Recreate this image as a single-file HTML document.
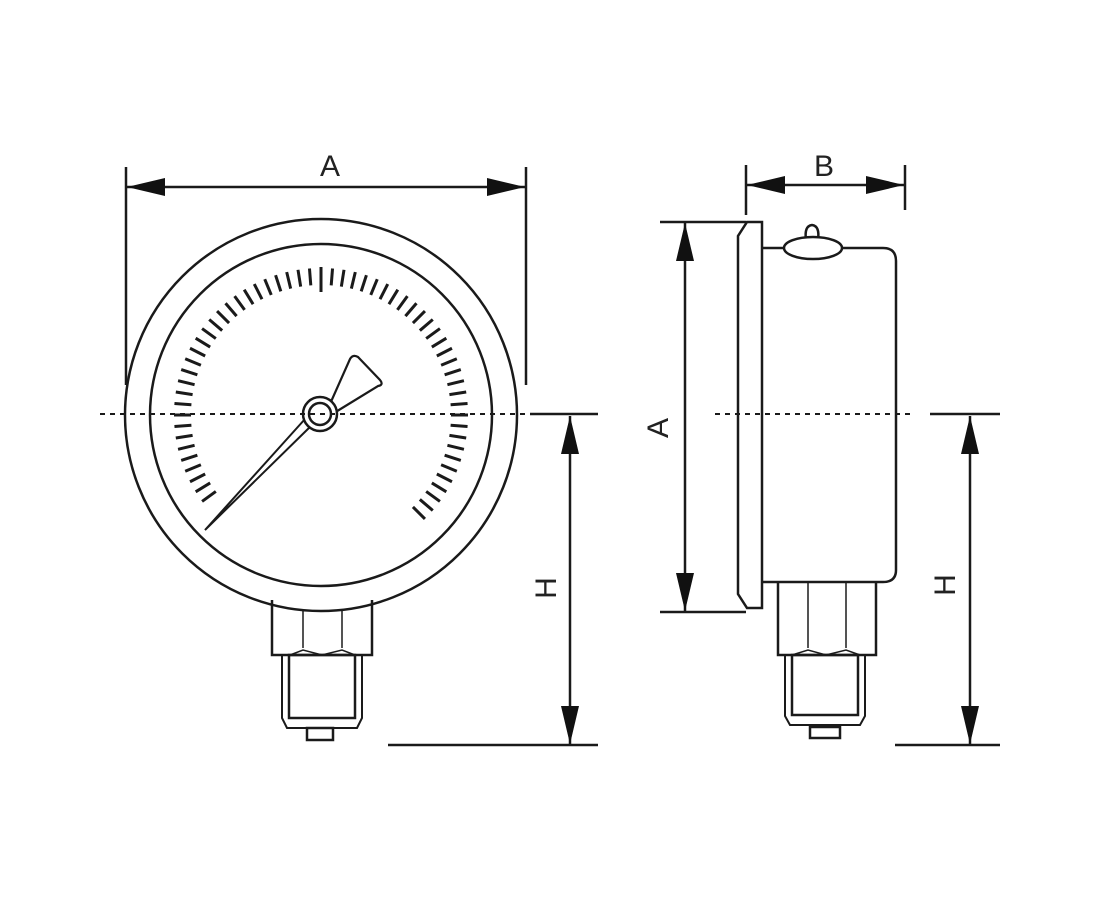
<!DOCTYPE html>
<html><head><meta charset="utf-8"><style>
html,body{margin:0;padding:0;background:#fff;}
svg{display:block;}
text{font-family:"Liberation Sans",sans-serif;font-size:30px;fill:#222;}
</style></head><body>
<svg width="1100" height="900" viewBox="0 0 1100 900" xmlns="http://www.w3.org/2000/svg">
<defs>
<marker id="ar" viewBox="0 0 38 18" refX="38" refY="9" markerWidth="38" markerHeight="18" markerUnits="userSpaceOnUse" orient="auto-start-reverse">
<path d="M0,0 L38,9 L0,18 Z" fill="#111"/>
</marker>
<line id="t" x1="321" y1="268" x2="321" y2="285"/>
</defs>
<g fill="none" stroke="#1a1a1a" stroke-width="2.5">
<line x1="126" y1="167" x2="126" y2="385"/>
<line x1="526" y1="167" x2="526" y2="385"/>
<line x1="127" y1="187" x2="525" y2="187" marker-start="url(#ar)" marker-end="url(#ar)"/>
<path d="M272,600 L272,655 L372,655 L372,600"/>
<line x1="303" y1="610" x2="303" y2="648" stroke-width="1.5"/>
<line x1="342" y1="610" x2="342" y2="648" stroke-width="1.5"/>
<path d="M290,655 L303,650 L322,655 L342,650 L355,655" stroke-width="1.5"/>
<path d="M282,655 L282,718 L287,728 L357,728 L362,718 L362,655" stroke-width="2"/>
<rect x="289" y="655" width="66" height="63"/>
<rect x="307" y="728" width="26" height="12"/>
<circle cx="321" cy="415" r="196"/>
<circle cx="321" cy="415" r="171"/>
<g stroke-width="3">
<use href="#t" transform="rotate(-126 321 415)"/><use href="#t" transform="rotate(-121.5 321 415)"/><use href="#t" transform="rotate(-117 321 415)"/><use href="#t" transform="rotate(-112.5 321 415)"/><use href="#t" transform="rotate(-108 321 415)"/><use href="#t" transform="rotate(-103.5 321 415)"/><use href="#t" transform="rotate(-99 321 415)"/><use href="#t" transform="rotate(-94.5 321 415)"/><use href="#t" transform="rotate(-90 321 415)"/><use href="#t" transform="rotate(-85.5 321 415)"/><use href="#t" transform="rotate(-81 321 415)"/><use href="#t" transform="rotate(-76.5 321 415)"/><use href="#t" transform="rotate(-72 321 415)"/><use href="#t" transform="rotate(-67.5 321 415)"/><use href="#t" transform="rotate(-63 321 415)"/><use href="#t" transform="rotate(-58.5 321 415)"/><use href="#t" transform="rotate(-54 321 415)"/><use href="#t" transform="rotate(-49.5 321 415)"/><use href="#t" transform="rotate(-45 321 415)"/><use href="#t" transform="rotate(-40.5 321 415)"/><use href="#t" transform="rotate(-36 321 415)"/><use href="#t" transform="rotate(-31.5 321 415)"/><use href="#t" transform="rotate(-27 321 415)"/><use href="#t" transform="rotate(-22.5 321 415)"/><use href="#t" transform="rotate(-18 321 415)"/><use href="#t" transform="rotate(-13.5 321 415)"/><use href="#t" transform="rotate(-9 321 415)"/><use href="#t" transform="rotate(-4.5 321 415)"/>
<line x1="321" y1="267" x2="321" y2="292"/>
<use href="#t" transform="rotate(4.5 321 415)"/><use href="#t" transform="rotate(9 321 415)"/><use href="#t" transform="rotate(13.5 321 415)"/><use href="#t" transform="rotate(18 321 415)"/><use href="#t" transform="rotate(22.5 321 415)"/><use href="#t" transform="rotate(27 321 415)"/><use href="#t" transform="rotate(31.5 321 415)"/><use href="#t" transform="rotate(36 321 415)"/><use href="#t" transform="rotate(40.5 321 415)"/><use href="#t" transform="rotate(45 321 415)"/><use href="#t" transform="rotate(49.5 321 415)"/><use href="#t" transform="rotate(54 321 415)"/><use href="#t" transform="rotate(58.5 321 415)"/><use href="#t" transform="rotate(63 321 415)"/><use href="#t" transform="rotate(67.5 321 415)"/><use href="#t" transform="rotate(72 321 415)"/><use href="#t" transform="rotate(76.5 321 415)"/><use href="#t" transform="rotate(81 321 415)"/><use href="#t" transform="rotate(85.5 321 415)"/><use href="#t" transform="rotate(90 321 415)"/><use href="#t" transform="rotate(94.5 321 415)"/><use href="#t" transform="rotate(99 321 415)"/><use href="#t" transform="rotate(103.5 321 415)"/><use href="#t" transform="rotate(108 321 415)"/><use href="#t" transform="rotate(112.5 321 415)"/><use href="#t" transform="rotate(117 321 415)"/><use href="#t" transform="rotate(121.5 321 415)"/><use href="#t" transform="rotate(126 321 415)"/><use href="#t" transform="rotate(130.5 321 415)"/><use href="#t" transform="rotate(135 321 415)"/>
</g>
<line x1="100" y1="414" x2="530" y2="414" stroke-width="2" stroke-dasharray="5,5"/>
<line x1="530" y1="414" x2="598" y2="414"/>
<line x1="570" y1="416" x2="570" y2="744" marker-start="url(#ar)" marker-end="url(#ar)"/>
<line x1="388" y1="745" x2="598" y2="745"/>
<path d="M205,530 L313,424 L305,419 Z" fill="#fff" stroke-width="2"/>
<path d="M330,404 L350,359 Q353,354 358,357 L380,380 Q384,385 378,386 L334,413" fill="#fff" stroke-width="2.2"/>
<circle cx="320" cy="414" r="17" fill="#fff"/>
<circle cx="320" cy="414" r="11"/>
<line x1="300" y1="414" x2="340" y2="414" stroke-width="2" stroke-dasharray="5,5"/>
<line x1="746" y1="165" x2="746" y2="215"/>
<line x1="905" y1="165" x2="905" y2="210"/>
<line x1="747" y1="185" x2="904" y2="185" marker-start="url(#ar)" marker-end="url(#ar)"/>
<line x1="660" y1="222" x2="746" y2="222"/>
<line x1="660" y1="612" x2="746" y2="612"/>
<line x1="685" y1="223" x2="685" y2="611" marker-start="url(#ar)" marker-end="url(#ar)"/>
<path d="M747,222 L762,222 L762,608 L747,608 L738,594 L738,236 Z"/>
<path d="M762,248 L883,248 Q896,248 896,261 L896,570 Q896,582 883,582 L762,582"/>
<path d="M806,240 Q804,226 812,225 Q820,226 818,240" fill="#fff"/>
<ellipse cx="813" cy="248" rx="29" ry="11" fill="#fff"/>
<path d="M778,582 L778,655 L876,655 L876,582"/>
<line x1="808" y1="582" x2="808" y2="648" stroke-width="1.5"/>
<line x1="846" y1="582" x2="846" y2="648" stroke-width="1.5"/>
<path d="M792,655 L808,650 L826,655 L846,650 L860,655" stroke-width="1.5"/>
<path d="M785,655 L785,716 L790,725 L860,725 L865,716 L865,655" stroke-width="2"/>
<rect x="792" y="655" width="66" height="60"/>
<rect x="810" y="727" width="30" height="11"/>
<line x1="715" y1="414" x2="915" y2="414" stroke-width="2" stroke-dasharray="5,5"/>
<line x1="930" y1="414" x2="1000" y2="414"/>
<line x1="970" y1="416" x2="970" y2="744" marker-start="url(#ar)" marker-end="url(#ar)"/>
<line x1="895" y1="745" x2="1000" y2="745"/>
</g>
<text x="330" y="176" text-anchor="middle">A</text>
<text x="824" y="176" text-anchor="middle">B</text>
<text transform="translate(668,428) rotate(-90)" text-anchor="middle">A</text>
<text transform="translate(556,588) rotate(-90)" text-anchor="middle">H</text>
<text transform="translate(955,585) rotate(-90)" text-anchor="middle">H</text>
</svg>
</body></html>
